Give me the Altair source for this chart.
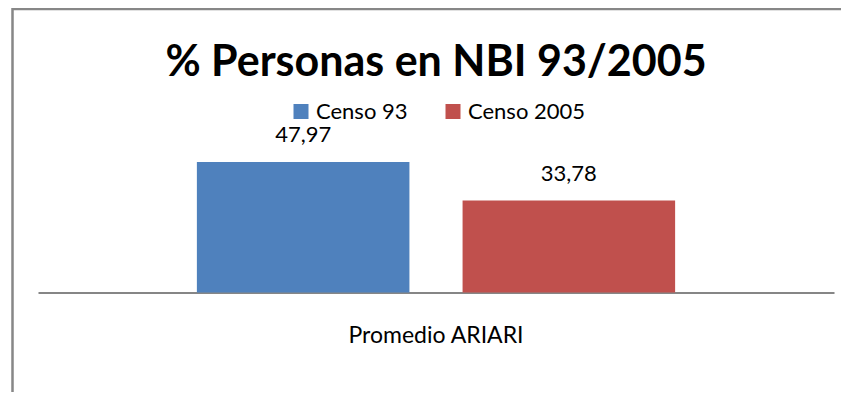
import altair as alt
import pandas as pd

categories = ["Promedio ARIARI"]
series = ["Censo 93", "Censo 2005"]
values = [47.97, 33.78]
colors = ["#4F81BD", "#C0504D"]

df = pd.DataFrame({
    "cat": [categories[0]] * len(series),
    "serie": series,
    "valor": values,
    "etiqueta": [f"{v:.2f}".replace(".", ",") for v in values],
})

FONT = "Lato"

frame = alt.Chart(pd.DataFrame({"a": [0]})).mark_rect(
    fillOpacity=0, stroke="#878787", strokeWidth=2.5
).encode(
    x=alt.value(-25.5), x2=alt.value(1200), y=alt.value(-147.5), y2=alt.value(1000)
)

x_enc = alt.X("cat:N", title=None,
              scale=alt.Scale(paddingInner=0, paddingOuter=0.249),
              axis=alt.Axis(domainColor="#868686", domainWidth=2, ticks=False,
                            labelFont=FONT, labelFontSize=23, labelColor="#000000",
                            labelPadding=32, labelAngle=0))
xo_enc = alt.XOffset("serie:N", sort=series,
                     scale=alt.Scale(paddingInner=0.2, paddingOuter=0.1))
y_enc = alt.Y("valor:Q", scale=alt.Scale(domain=[0, 50]), axis=None)

bars = alt.Chart(df).mark_bar().encode(
    x=x_enc, xOffset=xo_enc, y=y_enc,
    color=alt.Color("serie:N", sort=series,
                    scale=alt.Scale(domain=series, range=colors),
                    legend=alt.Legend(title=None, orient="none", direction="horizontal",
                                      legendX=252, legendY=-56, padding=0,
                                      symbolType="square", symbolSize=225,
                                      symbolStrokeWidth=0, symbolOpacity=1,
                                      labelFont=FONT, labelFontSize=22,
                                      labelColor="#000000", labelOffset=4,
                                      columnPadding=34)),
)

labels = alt.Chart(df).mark_text(
    font=FONT, fontSize=22, color="#000000", baseline="alphabetic", dy=-20
).encode(x=x_enc, xOffset=xo_enc, y=y_enc, text="etiqueta:N")

chart = alt.layer(frame, bars, labels).properties(
    width=796, height=136,
    title=alt.Title("% Personas en NBI 93/2005", font=FONT, fontSize=43,
                    fontWeight="bold", color="#000000", anchor="middle",
                    baseline="alphabetic", offset=-111),
    autosize=alt.AutoSizeParams(type="none"),
    padding={"left": 30, "top": 148.5, "right": 7, "bottom": 99.5},
).configure_view(stroke=None)

chart.save("out.html", embed_options={"renderer": "svg", "actions": False})
